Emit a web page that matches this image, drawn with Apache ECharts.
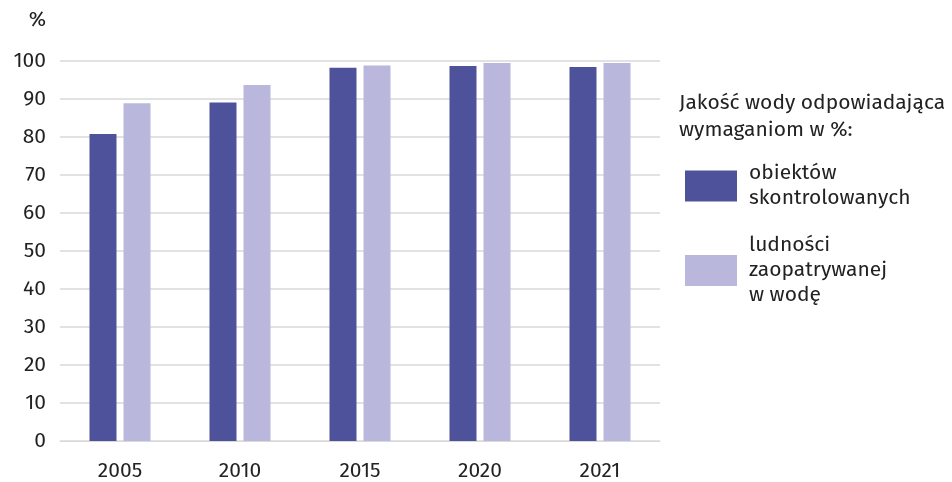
<!DOCTYPE html>
<html><head><meta charset="utf-8">
<script src="https://cdn.jsdelivr.net/npm/echarts@6/dist/echarts.min.js"></script>
<style>html,body{margin:0;padding:0;background:#fff}#c{width:952px;height:482px}</style>
</head><body><div id="c"></div>
<script>
const categories = ['2005','2010','2015','2020','2021'];
const obiekty = [80.8, 89.1, 98.2, 98.7, 98.4];
const ludnosc = [88.9, 93.7, 98.8, 99.5, 99.5];
const yTicks = [0,10,20,30,40,50,60,70,80,90,100];
const seriesNames = ['obiektów\nskontrolowanych', 'ludności\nzaopatrywanej\nw wodę'];
const legendTitle = 'Jakość wody odpowiadająca\nwymaganiom w %:';
const FONT = '"Fira Sans","Noto Sans",sans-serif';
const FS = 21;
const chart = echarts.init(document.getElementById('c'));
chart.setOption({
  animation:false,
  textStyle:{fontFamily:FONT},
  grid:{left:60,right:292,top:61,bottom:41},
  title:{text:legendTitle,left:674,top:85,textStyle:{fontFamily:FONT,fontSize:FS,fontWeight:'normal',color:'#222',lineHeight:27}},
  legend:{orient:'vertical',left:680,top:156,itemWidth:52,itemHeight:31,itemGap:22,icon:'rect',
    textStyle:{fontFamily:FONT,fontSize:FS,color:'#222',lineHeight:25,padding:[0,0,0,7]},
    data:seriesNames},
  xAxis:{type:'category',data:categories,
    axisLine:{show:true,lineStyle:{color:'#d9d9d9',width:1}},axisTick:{show:false},
    axisLabel:{fontFamily:FONT,fontSize:FS,color:'#222',margin:20}},
  yAxis:{type:'value',min:0,max:100,interval:10,name:'%',nameLocation:'end',nameGap:30,
    nameTextStyle:{fontFamily:FONT,fontSize:FS,color:'#222',align:'right',padding:[0,14,0,0]},
    axisLine:{show:false},axisTick:{show:false},
    axisLabel:{fontFamily:FONT,fontSize:FS,color:'#222',margin:14,
      formatter:v=>yTicks.includes(v)?String(v):''},
    splitLine:{lineStyle:{color:'#d9d9d9',width:1.5}}},
  series:[
    {name:seriesNames[0],type:'bar',data:obiekty,barWidth:27,barGap:'26%',itemStyle:{color:'#4E529A'}},
    {name:seriesNames[1],type:'bar',data:ludnosc,barWidth:27,itemStyle:{color:'#B9B8DC'}}
  ]
});
</script></body></html>
